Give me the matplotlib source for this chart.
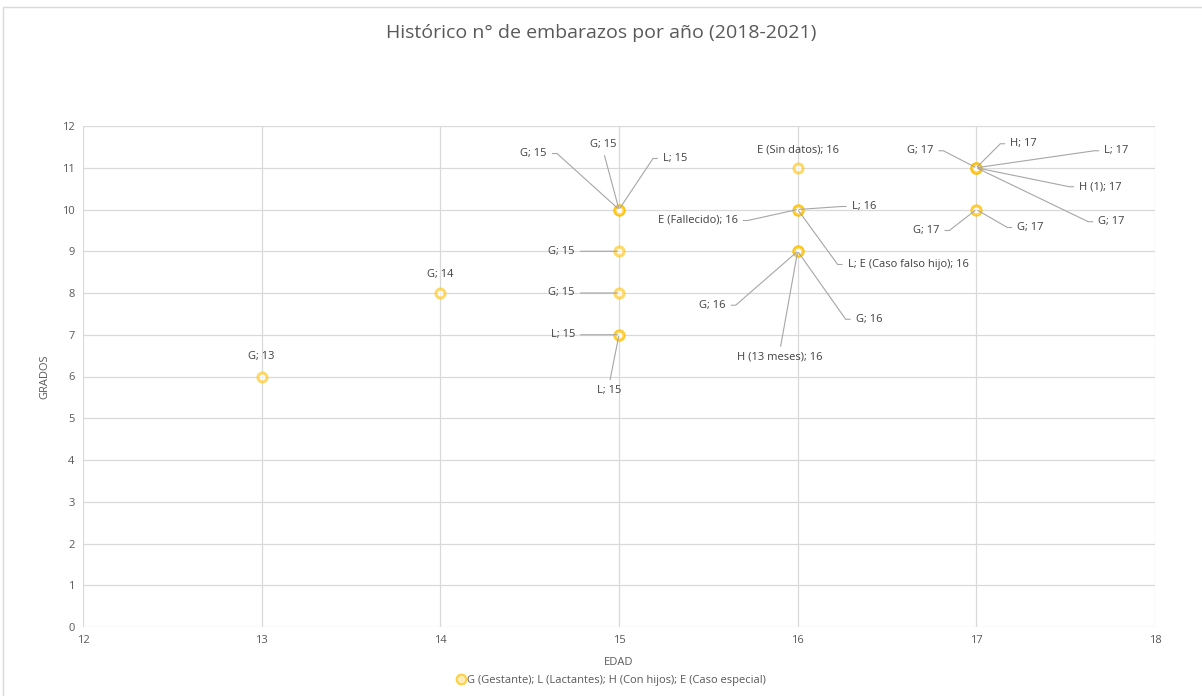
import math
from matplotlib import pyplot as plt
from matplotlib.lines import Line2D
from matplotlib.patches import Rectangle

plt.rcParams["font.family"] = ["Open Sans", "DejaVu Sans"]

# Datos: edad, grado y letra de cada caso
edad = [13, 14, 15, 15, 15, 15, 15, 15, 15, 16, 16, 16, 16, 16, 16, 16,
        17, 17, 17, 17, 17, 17, 17]
grado = [6, 8, 10, 10, 10, 9, 8, 7, 7, 11, 10, 10, 10, 9, 9, 9,
         11, 11, 11, 11, 11, 10, 10]
letra = ["G", "G", "G", "G", "L", "G", "G", "L", "L", "E (Sin datos)",
         "E (Fallecido)", "L", "L; E (Caso falso hijo)", "G", "G", "H (13 meses)",
         "G", "H", "L", "H (1)", "G", "G", "G"]

# posicion de cada etiqueta respecto al punto (pixeles) y si lleva linea guia
etiq_pos = [(0, 20, 0), (0, 19, 0), (-72, 56, 1), (-16, 65, 1), (44, 51, 1),
            (-44, 0, 1), (-44, 0, 1), (-44, 0, 1), (-10, -56, 1), (0, 18, 0),
            (-60, -11, 1), (54, 3, 1), (50, -55, 1), (-72, -54, 1), (58, -68, 1),
            (-18, -106, 1), (-43, 17, 1), (34, 24, 1), (128, 17, 1), (103, -19, 1),
            (122, -54, 1), (-37, -21, 1), (41, -18, 1)]

fig = plt.figure(figsize=(12.02, 6.96), dpi=100)
ax = fig.add_axes([83 / 1202, 1 - 627 / 696, (1155 - 83) / 1202, (627 - 126) / 696])

# borde del area del grafico
fig.patches.append(Rectangle((3 / 1202, -0.1), 1.2, 1.1 - 7 / 696, transform=fig.transFigure,
                             fill=False, edgecolor="#D9D9D9", lw=1))

ax.scatter(edad, grado, s=42, facecolor="white", edgecolor="#FFC000", linewidths=2.2,
           alpha=0.6, zorder=3)

gris = "#A6A6A6"
for x, y, l, (dx, dy, guia) in zip(edad, grado, letra, etiq_pos):
    texto = f"{l}; {x}"
    if not guia:
        ax.annotate(texto, (x, y), xytext=(dx, dy), textcoords="offset pixels",
                    ha="center", va="center", fontsize=8, color="#404040")
        continue
    if abs(dx) > 25:
        ha = "right" if dx < 0 else "left"
        relpos = (1, 0.5) if dx < 0 else (0, 0.5)
        stub = 10 if dx < 0 else -10
        if dy == 0:
            cs = "arc3"
        else:
            angB = math.degrees(math.atan2(dy, dx + stub))
            cs = f"angle,angleA=0,angleB={angB},rad=0"
    else:
        ha = "center"
        relpos = (0.5, 0) if dy > 0 else (0.5, 1)
        cs = "arc3"
    ax.annotate(texto, (x, y), xytext=(dx, dy), textcoords="offset pixels",
                ha=ha, va="center", fontsize=8, color="#404040",
                arrowprops=dict(arrowstyle="-", color=gris, lw=0.8, shrinkA=2, shrinkB=1,
                                relpos=relpos, connectionstyle=cs))

ax.set_xlim(12, 18)
ax.set_ylim(0, 12)
ax.set_xticks(range(12, 19))
ax.set_yticks(range(0, 13))
ax.grid(True, color="#D9D9D9", lw=0.9)
ax.set_axisbelow(True)
for s in ax.spines.values():
    s.set_visible(False)
ax.tick_params(length=0, labelsize=8, labelcolor="#595959", pad=6)

ax.set_xlabel("EDAD", fontsize=8, color="#595959", labelpad=8)
ax.set_ylabel("GRADOS", fontsize=8, color="#595959", labelpad=8)
fig.suptitle("Histórico n° de embarazos por año (2018-2021)", y=1 - 33 / 696, va="center",
             fontsize=14, color="#595959")

handle = Line2D([], [], ls="", marker="o", ms=7, mfc="#FFE699", mec="#FFC000",
                mew=1.5, alpha=0.7)
fig.legend([handle], ["G (Gestante); L (Lactantes); H (Con hijos); E (Caso especial)"],
           loc="center", bbox_to_anchor=(611 / 1202, 1 - 680 / 696), frameon=False,
           fontsize=8, labelcolor="#595959", handlelength=0.8, handletextpad=0.1)

fig.savefig("out.png", dpi=100)
